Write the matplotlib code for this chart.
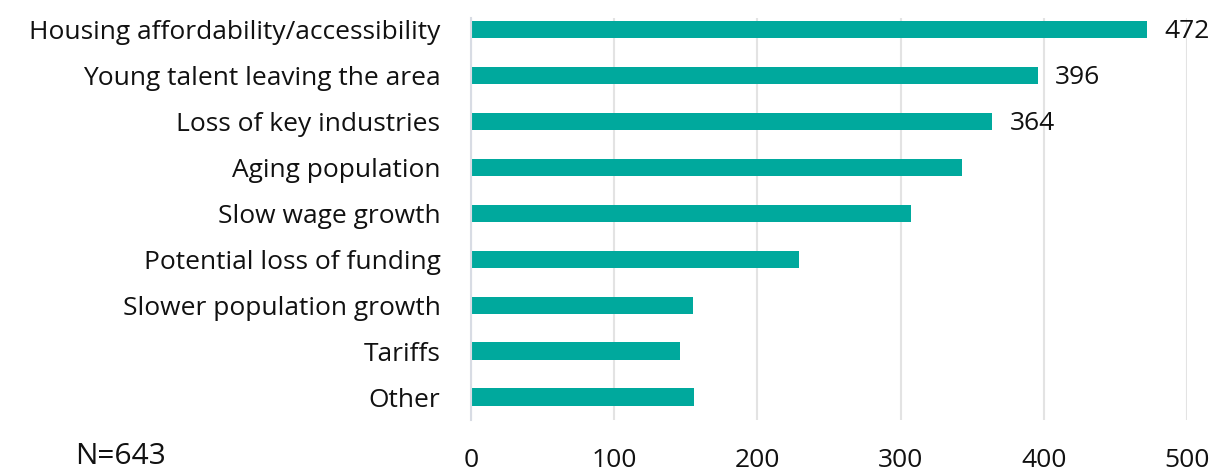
import matplotlib
matplotlib.use("Agg")
import matplotlib.pyplot as plt

categories = ["Housing affordability/accessibility", "Young talent leaving the area",
              "Loss of key industries", "Aging population", "Slow wage growth",
              "Potential loss of funding", "Slower population growth", "Tariffs", "Other"]
values = [472, 396, 364, 343, 307, 229, 155, 146, 156]
labeled = [True, True, True, False, False, False, False, False, False]
xticks = [0, 100, 200, 300, 400, 500]
note = "N=643"

plt.rcParams['font.family'] = ['Open Sans', 'DejaVu Sans']
color = "#00A99D"
fs = 19

fig = plt.figure(figsize=(12.2, 4.76), dpi=100)
ax = fig.add_axes([471/1220, 1 - 420/476, (1187-471)/1220, (420-18)/476])

ypos = list(range(len(categories)))
ax.barh(ypos, values, height=0.37, color=color, zorder=3)
for y, v, lab in zip(ypos, values, labeled):
    if lab:
        ax.text(v + 12, y + 0.06, str(v), va="center", ha="left", fontsize=fs, color="#111111")

ax.set_ylim(8.5, -0.24)
ax.set_xlim(0, 500)
ax.set_yticks(ypos)
ax.set_yticklabels(categories, fontsize=fs, color="#111111")
ax.set_xticks(xticks)
ax.set_xticklabels([str(t) for t in xticks], fontsize=fs, color="#111111")
ax.tick_params(axis="both", length=0)
ax.tick_params(axis="y", pad=22)
ax.tick_params(axis="x", pad=20)
ax.grid(axis="x", color="#E3E3E3", linewidth=1.5, zorder=0)
for s in ["top", "right", "bottom"]:
    ax.spines[s].set_visible(False)
ax.spines["left"].set_color("#D8DCE4")
ax.spines["left"].set_linewidth(1.5)
ax.spines["left"].set_zorder(4)

fig.text(75/1220, 1 - 456/476, note, fontsize=21.5, va="center", ha="left", color="#111111")

fig.savefig("out.png", dpi=100, facecolor="white")
